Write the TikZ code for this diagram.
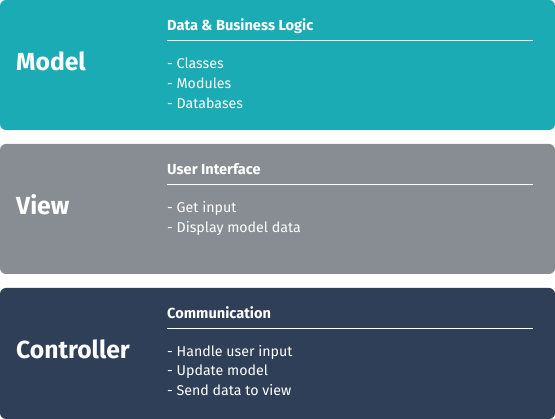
\documentclass[tikz,border=0pt]{standalone}
\usepackage{fontspec}
\setmainfont{Fira Sans}
\definecolor{modelteal}{HTML}{1BABB4}
\definecolor{viewgray}{HTML}{878D92}
\definecolor{ctrlnavy}{HTML}{2E3F57}
\begin{document}
\begin{tikzpicture}[x=1pt,y=-1pt,
  panel/.style={rounded corners=6pt},
  layername/.style={anchor=base west, inner sep=0pt, text=white,
    font=\fontsize{24.7}{24.7}\selectfont\bfseries},
  roletitle/.style={anchor=base west, inner sep=0pt, text=white,
    font=\fontsize{14.6}{14.6}\selectfont\bfseries},
  item/.style={anchor=base west, inner sep=0pt, text=white,
    font=\fontsize{14.2}{14.2}\selectfont},
  rule/.style={draw=white, line width=1.4pt}
]
\useasboundingbox (0,0) rectangle (555,419);

% Model layer
\fill[panel, modelteal] (0,0) rectangle (555,130);
\node[layername] (mname) at (16,71) {Model};
\node[roletitle] (mtitle) at (167,30.7) {Data \& Business Logic};
\coordinate (mruleA) at (167,40.7);
\coordinate (mruleB) at (533,40.7);
\draw[rule] (mruleA) -- (mruleB);
\node[item] (m1) at (167,69) {- Classes};
\node[item] (m2) at (167,88.7) {- Modules};
\node[item] (m3) at (167,108.4) {- Databases};

% View layer
\fill[panel, viewgray] (0,144) rectangle (555,274);
\node[layername] (vname) at (16,215) {View};
\node[roletitle] (vtitle) at (167,174.7) {User Interface};
\coordinate (vruleA) at (167,184.7);
\coordinate (vruleB) at (533,184.7);
\draw[rule] (vruleA) -- (vruleB);
\node[item] (v1) at (167,213) {- Get input};
\node[item] (v2) at (167,232.7) {- Display model data};

% Controller layer
\fill[panel, ctrlnavy] (0,288) rectangle (555,419);
\node[layername] (cname) at (16,359) {Controller};
\node[roletitle] (ctitle) at (167,318.5) {Communication};
\coordinate (cruleA) at (167,328.7);
\coordinate (cruleB) at (533,328.7);
\draw[rule] (cruleA) -- (cruleB);
\node[item] (c1) at (167,356.3) {- Handle user input};
\node[item] (c2) at (167,376) {- Update model};
\node[item] (c3) at (167,395.7) {- Send data to view};
\end{tikzpicture}
\end{document}
